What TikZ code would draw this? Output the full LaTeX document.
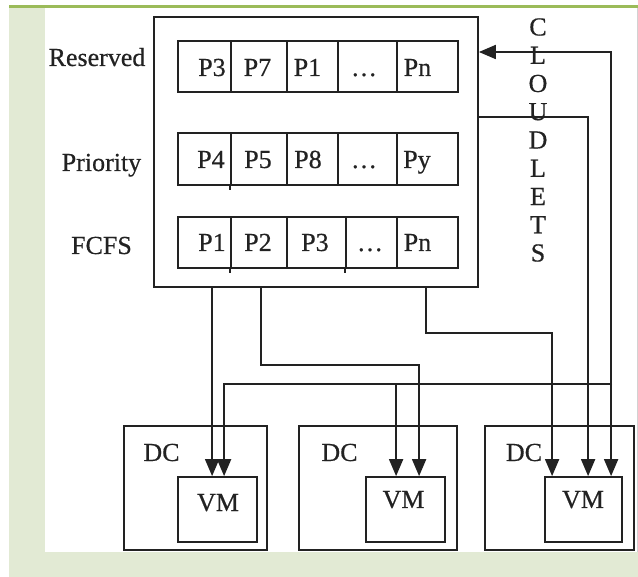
\documentclass[tikz,border=0pt]{standalone}
\usepackage{fontspec}
\setmainfont{Liberation Serif}
\newfontfamily\diagfont{Liberation Serif}[FakeBold=0.5]
\usetikzlibrary{arrows.meta,fit,calc}
\definecolor{bgreen}{HTML}{E2EAD4}
\definecolor{tgreen}{HTML}{9BBB59}
\definecolor{ink}{HTML}{222222}
\newcommand\qrow[4]{%
  \node[box, fit={(178,#2)(231,#3)}] (#1c1) {};
  \node[box, fit={(231,#2)(287,#3)}] (#1c2) {};
  \node[box, fit={(287,#2)(#4,#3)}] (#1c3) {};
  \node[box, fit={(#4,#2)(397,#3)}] (#1c4) {};
  \node[box, fit={(397,#2)(458,#3)}] (#1c5) {};
}
\begin{document}
\begin{tikzpicture}[x=0.5pt,y=-0.5pt,
  box/.style={draw=ink, line width=0.9pt, inner sep=0pt},
  txt/.style={inner sep=0pt, anchor=base, text=ink, font=\diagfont\fontsize{13}{15}\selectfont},
  ctxt/.style={inner sep=0pt, anchor=center, text=ink, font=\diagfont\fontsize{13}{15}\selectfont},
  conn/.style={draw=ink, line width=0.9pt},
  arr/.style={conn, -{Triangle[length=8.5pt,width=7pt]}},
  darr/.style={conn, {Triangle[length=8.5pt,width=7pt]}-{Triangle[length=8.5pt,width=7pt]}}
]
\useasboundingbox (0,0) rectangle (638,577);
% background frame
\fill[bgreen] (9,8) rectangle (638,577);
\fill[white] (45,8) rectangle (637,552);
\fill[tgreen] (9,5) rectangle (638,8);
\draw[gray!35, line width=0.4pt] (637,8) -- (637,552);

% main queue box
\node[box, fit={(154,17)(478,287)}] (main) {};

% queue rows
\qrow{r1}{41}{92}{338}
\qrow{r2}{133}{185}{338}
\qrow{r3}{217}{268}{346}
\draw[conn] (r2c2.south west) -- ++(0,4);
\draw[conn] (r3c2.south west) -- ++(0,4);
\draw[conn] (r3c4.south west) -- ++(0,4);

% row labels
\node[txt] (lres) at (97,66) {Reserved};
\node[txt] (lpri) at (101.5,171) {Priority};
\node[txt] (lfcfs) at (101.5,254) {FCFS};

% cell texts
\node[txt] (t11) at (212,76) {P3};
\node[txt] (t12) at (257.5,76) {P7};
\node[txt] (t13) at (307.5,76) {P1};
\node[txt] (t14) at (364,76) {…};
\node[txt] (t15) at (417.5,76) {Pn};

\node[txt] (t21) at (211,168) {P4};
\node[txt] (t22) at (258,168) {P5};
\node[txt] (t23) at (308,168) {P8};
\node[txt] (t24) at (364,168) {…};
\node[txt] (t25) at (417,168) {Py};

\node[txt] (t31) at (212,251) {P1};
\node[txt] (t32) at (258,251) {P2};
\node[txt] (t33) at (315,251) {P3};
\node[txt] (t34) at (370,251) {…};
\node[txt] (t35) at (417.5,251) {Pn};

% CLOUDLETS vertical
\foreach \ch [count=\k from 0] in {C,L,O,U,D,L,E,T,S}
  \node[ctxt] (cl\k) at (538,27+28.25*\k) {\ch};

% data centres and VMs
\node[box, fit={(124,426)(267,550)}] (dc1) {};
\node[box, fit={(299,426)(457,550)}] (dc2) {};
\node[box, fit={(485,426)(634,550)}] (dc3) {};
\node[box, fit={(178,477)(257,542)}] (vm1) {};
\node[box, fit={(366,477)(445,542)}] (vm2) {};
\node[box, fit={(545,477)(622,542)}] (vm3) {};
\node[txt] (dct1) at (161.5,461) {DC};
\node[txt] (dct2) at (339.5,461) {DC};
\node[txt] (dct3) at (524,461) {DC};
\node[txt] (vmt1) at (218,511) {VM};
\node[txt] (vmt2) at (403.5,508) {VM};
\node[txt] (vmt3) at (583,508) {VM};

% connectors from the queue box
\draw[arr] ($(main.south west)+(59,0)$) -- ($(vm1.north west)+(35,0)$);
\draw[arr] ($(main.south west)+(108,0)$) -- ++(0,77) -| ($(vm2.north west)+(54,0)$);
\draw[arr] ($(main.south west)+(273,0)$) -- ++(0,45) -| ($(vm3.north west)+(8,0)$);
\draw[arr] ($(main.north east)+(0,101)$) -| ($(vm3.north west)+(44,0)$);

% cloudlet feed line
\coordinate (feed) at (612,52);
\coordinate (split) at (612,384);
\coordinate (v1b) at ($(vm1.north west)+(47,0)$);
\coordinate (v2b) at ($(vm2.north west)+(31,0)$);
\coordinate (v3c) at ($(vm3.north west)+(67,0)$);
\draw[darr] (feed -| main.east) -| (v3c);
\draw[arr] (split) -| (v1b);
\draw[arr] (v2b |- split) -- (v2b);
\end{tikzpicture}
\end{document}
